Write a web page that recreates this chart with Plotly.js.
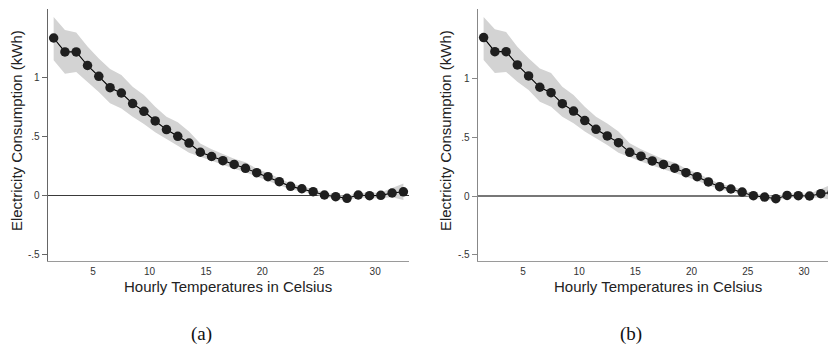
<!DOCTYPE html>
<html>
<head>
<meta charset="utf-8">
<script src="https://cdn.plot.ly/plotly-3.0.1.min.js"></script>
<style>
  html, body { margin: 0; padding: 0; background: #fff; }
  #chart { width: 828px; height: 344px; }
</style>
</head>
<body>
<div id="chart"></div>
<script>
// Hourly temperature bins (degrees Celsius)
const temps = [1.5, 2.5, 3.5, 4.5, 5.5, 6.5, 7.5, 8.5, 9.5, 10.5, 11.5, 12.5, 13.5, 14.5, 15.5, 16.5,
               17.5, 18.5, 19.5, 20.5, 21.5, 22.5, 23.5, 24.5, 25.5, 26.5, 27.5, 28.5, 29.5, 30.5, 31.5, 32.5];

// Panel (a): estimated effect and confidence band (kWh)
const effectA = [1.333, 1.215, 1.215, 1.10, 1.008, 0.912, 0.867, 0.777, 0.712, 0.630, 0.557, 0.500, 0.443, 0.365, 0.329, 0.294,
                 0.262, 0.229, 0.192, 0.158, 0.116, 0.076, 0.056, 0.031, 0.003, -0.011, -0.025, 0.003, -0.003, 0.0, 0.020, 0.030];
const upperA  = [1.51, 1.40, 1.38, 1.26, 1.16, 1.07, 1.02, 0.92, 0.85, 0.75, 0.665, 0.62, 0.54, 0.44, 0.39, 0.35,
                 0.31, 0.28, 0.225, 0.19, 0.145, 0.10, 0.08, 0.05, 0.022, 0.008, -0.005, 0.022, 0.02, 0.025, 0.06, 0.10];
const lowerA  = [1.145, 1.03, 1.045, 0.96, 0.875, 0.78, 0.735, 0.665, 0.605, 0.535, 0.48, 0.42, 0.36, 0.325, 0.29, 0.255,
                 0.225, 0.195, 0.16, 0.125, 0.09, 0.05, 0.035, 0.012, -0.015, -0.03, -0.045, -0.016, -0.025, -0.025, -0.017, -0.04];

// Panel (b): estimated effect and confidence band (kWh)
const effectB = [1.353, 1.233, 1.233, 1.12, 1.026, 0.929, 0.883, 0.789, 0.726, 0.644, 0.570, 0.513, 0.456, 0.373, 0.340, 0.300,
                 0.270, 0.238, 0.199, 0.165, 0.120, 0.080, 0.060, 0.034, 0.003, -0.009, -0.023, 0.005, 0.003, 0.0, 0.020, 0.030];
const upperB  = [1.53, 1.425, 1.40, 1.276, 1.177, 1.09, 1.05, 0.934, 0.863, 0.763, 0.678, 0.62, 0.55, 0.45, 0.40, 0.355,
                 0.315, 0.285, 0.235, 0.195, 0.15, 0.105, 0.085, 0.055, 0.022, 0.01, -0.003, 0.022, 0.02, 0.02, 0.06, 0.10];
const lowerB  = [1.162, 1.05, 1.06, 0.977, 0.906, 0.806, 0.763, 0.678, 0.621, 0.55, 0.493, 0.436, 0.37, 0.33, 0.295, 0.26,
                 0.23, 0.2, 0.165, 0.13, 0.09, 0.055, 0.038, 0.014, -0.015, -0.028, -0.043, -0.012, -0.015, -0.018, -0.015, -0.035];

// Axis labels
const xTitle = 'Hourly Temperatures in Celsius';
const yTitle = 'Electricity Consumption (kWh)';
const xTickVals = [5, 10, 15, 20, 25, 30];
const yTickVals = [-0.5, 0, 0.5, 1];
const yTickText = ['-.5', '0', '.5', '1'];
const captions = ['(a)', '(b)'];

const bandColor = 'rgb(211,211,211)';
const markColor = '#1f1f1f';

function panel(xa, ya, effect, upper, lower) {
  return [
    { x: temps, y: lower, xaxis: xa, yaxis: ya, type: 'scatter', mode: 'lines',
      line: { width: 0, color: bandColor }, hoverinfo: 'skip', showlegend: false },
    { x: temps, y: upper, xaxis: xa, yaxis: ya, type: 'scatter', mode: 'lines',
      line: { width: 0, color: bandColor }, fill: 'tonexty', fillcolor: bandColor,
      hoverinfo: 'skip', showlegend: false },
    { x: temps, y: effect, xaxis: xa, yaxis: ya, type: 'scatter', mode: 'lines+markers',
      line: { width: 1.1, color: '#000' },
      marker: { size: 9.5, color: markColor }, showlegend: false }
  ];
}

const data = [
  ...panel('x', 'y', effectA, upperA, lowerA),
  ...panel('x2', 'y2', effectB, upperB, lowerB)
];

const font = { family: 'Liberation Sans, Arial, sans-serif', color: '#222' };
const tickFont = { family: 'Liberation Sans, Arial, sans-serif', size: 10, color: '#333' };
const yDomain = [0.242, 0.974];

function xAxis(domain, range, anchor) {
  return {
    domain: domain, range: range, anchor: anchor,
    showgrid: false, zeroline: false,
    showline: true, linecolor: '#9a9a9a', linewidth: 1.6,
    ticks: '', tickvals: xTickVals, tickfont: tickFont, ticklabelstandoff: 1,
    automargin: false, fixedrange: true
  };
}
function yAxis(range, anchor, lineColor, zeroColor) {
  return {
    domain: yDomain, range: range, anchor: anchor,
    showgrid: false,
    zeroline: true, zerolinecolor: zeroColor, zerolinewidth: 1.4,
    showline: true, linecolor: lineColor, linewidth: 1.4,
    ticks: 'outside', ticklen: 5, tickwidth: 1, tickcolor: lineColor,
    tickvals: yTickVals, ticktext: yTickText, tickfont: tickFont,
    automargin: false, fixedrange: true
  };
}

const layout = {
  width: 828, height: 344,
  margin: { l: 0, r: 0, t: 0, b: 0 },
  paper_bgcolor: '#fff', plot_bgcolor: '#fff',
  font: font,
  showlegend: false,
  xaxis: xAxis([0.0580, 0.4940], [1, 33], 'y'),
  yaxis: yAxis([-0.554, 1.579], 'x', '#666', '#3a3a3a'),
  xaxis2: xAxis([0.5773, 1], [1, 32.14], 'y2'),
  yaxis2: yAxis([-0.553, 1.598], 'x2', '#888', '#777'),
  annotations: [
    { text: yTitle, xref: 'paper', yref: 'paper', x: 16 / 828, y: 0.619, textangle: -90,
      showarrow: false, xanchor: 'center', yanchor: 'middle', font: { size: 15, color: '#222' } },
    { text: yTitle, xref: 'paper', yref: 'paper', x: 445 / 828, y: 0.619, textangle: -90,
      showarrow: false, xanchor: 'center', yanchor: 'middle', font: { size: 15, color: '#222' } },
    { text: xTitle, xref: 'paper', yref: 'paper', x: 228 / 828, y: 0.1657,
      showarrow: false, xanchor: 'center', yanchor: 'middle', font: { size: 15, color: '#222' } },
    { text: xTitle, xref: 'paper', yref: 'paper', x: 658 / 828, y: 0.1657,
      showarrow: false, xanchor: 'center', yanchor: 'middle', font: { size: 15, color: '#222' } },
    { text: captions[0], xref: 'paper', yref: 'paper', x: 201 / 828, y: 0.030,
      showarrow: false, xanchor: 'center', yanchor: 'middle',
      font: { family: 'Liberation Serif, Times New Roman, serif', size: 19, color: '#111' } },
    { text: captions[1], xref: 'paper', yref: 'paper', x: 631 / 828, y: 0.030,
      showarrow: false, xanchor: 'center', yanchor: 'middle',
      font: { family: 'Liberation Serif, Times New Roman, serif', size: 19, color: '#111' } }
  ]
};

Plotly.newPlot('chart', data, layout, { displayModeBar: false, staticPlot: true });
</script>
</body>
</html>
